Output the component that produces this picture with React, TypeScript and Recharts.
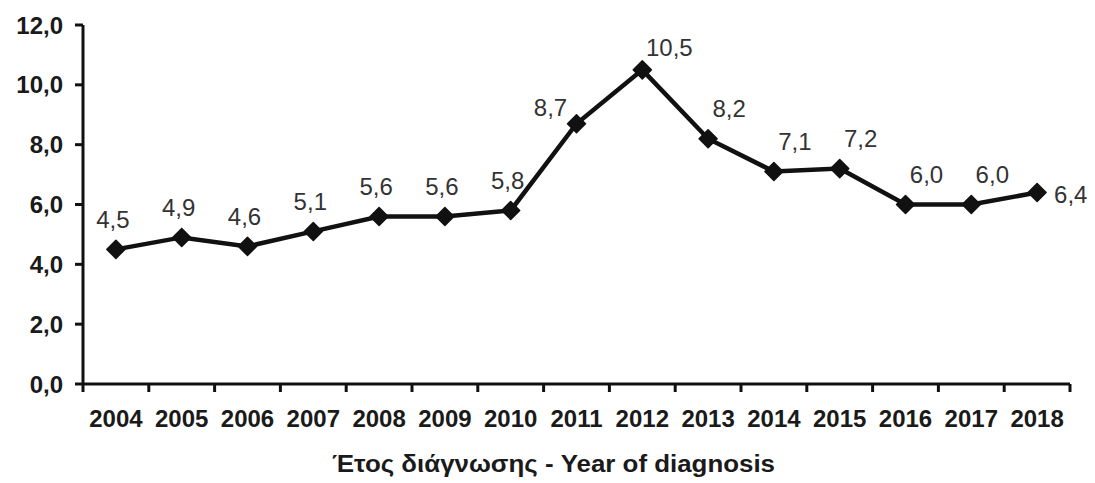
import React from 'react';
import { LineChart, Line, XAxis, YAxis, LabelList } from 'recharts';

const years = ['2004', '2005', '2006', '2007', '2008', '2009', '2010', '2011', '2012', '2013', '2014', '2015', '2016', '2017', '2018'];
const rates = [4.5, 4.9, 4.6, 5.1, 5.6, 5.6, 5.8, 8.7, 10.5, 8.2, 7.1, 7.2, 6.0, 6.0, 6.4];
const yTicks = [0, 2, 4, 6, 8, 10, 12];
const axisTitle = 'Έτος διάγνωσης - Year of diagnosis';

// label placement style per year
const labelPlacement: Record<string, 'top' | 'left' | 'topRight' | 'nearRight' | 'right'> = {
  '2011': 'left',
  '2012': 'nearRight',
  '2013': 'topRight',
  '2014': 'topRight',
  '2015': 'topRight',
  '2016': 'topRight',
  '2017': 'topRight',
  '2018': 'right',
};

const data = years.map((year, i) => ({ idx: i, year, rate: rates[i] }));

const xTicks: number[] = [];
years.forEach((_, i) => {
  xTicks.push(i - 0.5, i);
});
xTicks.push(years.length - 0.5);

const fmt = (v: number) => v.toFixed(1).replace('.', ',');

const XTick = (props: any) => {
  const { x, y, payload } = props;
  const v = payload.value as number;
  if (Number.isInteger(v)) {
    return (
      <text x={x} y={y + 43} textAnchor="middle" fontFamily="Liberation Sans, Arial, sans-serif" fontWeight="bold" fontSize={24} fill="#1a1a1a">
        {years[v]}
      </text>
    );
  }
  return <line x1={x} y1={y} x2={x} y2={y + 8} stroke="#111" strokeWidth={3} />;
};

const Diamond = (props: any) => {
  const { cx, cy } = props;
  if (cx == null || cy == null) return null;
  const r = 9;
  return <polygon points={`${cx},${cy - r} ${cx + r},${cy} ${cx},${cy + r} ${cx - r},${cy}`} fill="#111" stroke="#111" strokeWidth={1.5} strokeLinejoin="round" />;
};

const ValueLabel = (props: any) => {
  const { x, y, value, index } = props;
  const place = labelPlacement[years[index]] || 'top';
  let tx = x;
  let ty = y - 21;
  let anchor: 'middle' | 'start' | 'end' = 'middle';
  if (place === 'left') {
    tx = x - 26;
    ty = y - 8;
  } else if (place === 'topRight') {
    tx = x + 21;
    ty = y - 22;
  } else if (place === 'nearRight') {
    tx = x + 27;
    ty = y - 14;
  } else if (place === 'right') {
    tx = x + 17;
    ty = y + 10;
    anchor = 'start';
  } else {
    tx = x - 3;
  }
  return (
    <text x={tx} y={ty} textAnchor={anchor} fontFamily="Liberation Sans, Arial, sans-serif" fontSize={24} fill="#333">
      {fmt(value)}
    </text>
  );
};

const TitleLabel = (props: any) => {
  const { viewBox } = props;
  const cx = viewBox.x + viewBox.width / 2 - 23;
  return (
    <text
      x={cx}
      y={viewBox.y + viewBox.height - 11}
      textAnchor="middle"
      fontFamily="Liberation Sans, Arial, sans-serif"
      fontWeight="bold"
      fontSize={23}
      textLength={443}
      lengthAdjust="spacingAndGlyphs"
      fill="#1a1a1a"
    >
      {axisTitle}
    </text>
  );
};

export default function App() {
  return (
    <div style={{ position: 'fixed', left: 0, top: 0, width: 1095, height: 483, background: '#fff' }}>
      <LineChart width={1095} height={483} data={data} margin={{ top: 25, right: 25, bottom: 0, left: 0 }}>
        <XAxis
          dataKey="idx"
          type="number"
          domain={[-0.5, years.length - 0.5]}
          ticks={xTicks}
          interval={0}
          tick={<XTick />}
          tickLine={false}
          tickSize={0}
          tickMargin={0}
          height={99}
          axisLine={{ stroke: '#111', strokeWidth: 3 }}
          label={<TitleLabel />}
        />
        <YAxis
          type="number"
          domain={[0, 12]}
          ticks={yTicks}
          interval={0}
          width={83}
          tickFormatter={fmt}
          tickSize={8}
          tickMargin={12}
          tickLine={{ stroke: '#111', strokeWidth: 3 }}
          axisLine={{ stroke: '#111', strokeWidth: 3 }}
          tick={{ fontFamily: 'Liberation Sans, Arial, sans-serif', fontWeight: 'bold', fontSize: 24, fill: '#1a1a1a' }}
        />
        <Line
          dataKey="rate"
          stroke="#111"
          strokeWidth={4.5}
          dot={<Diamond />}
          activeDot={false}
          isAnimationActive={false}
        >
          <LabelList dataKey="rate" content={<ValueLabel />} />
        </Line>
      </LineChart>
    </div>
  );
}
